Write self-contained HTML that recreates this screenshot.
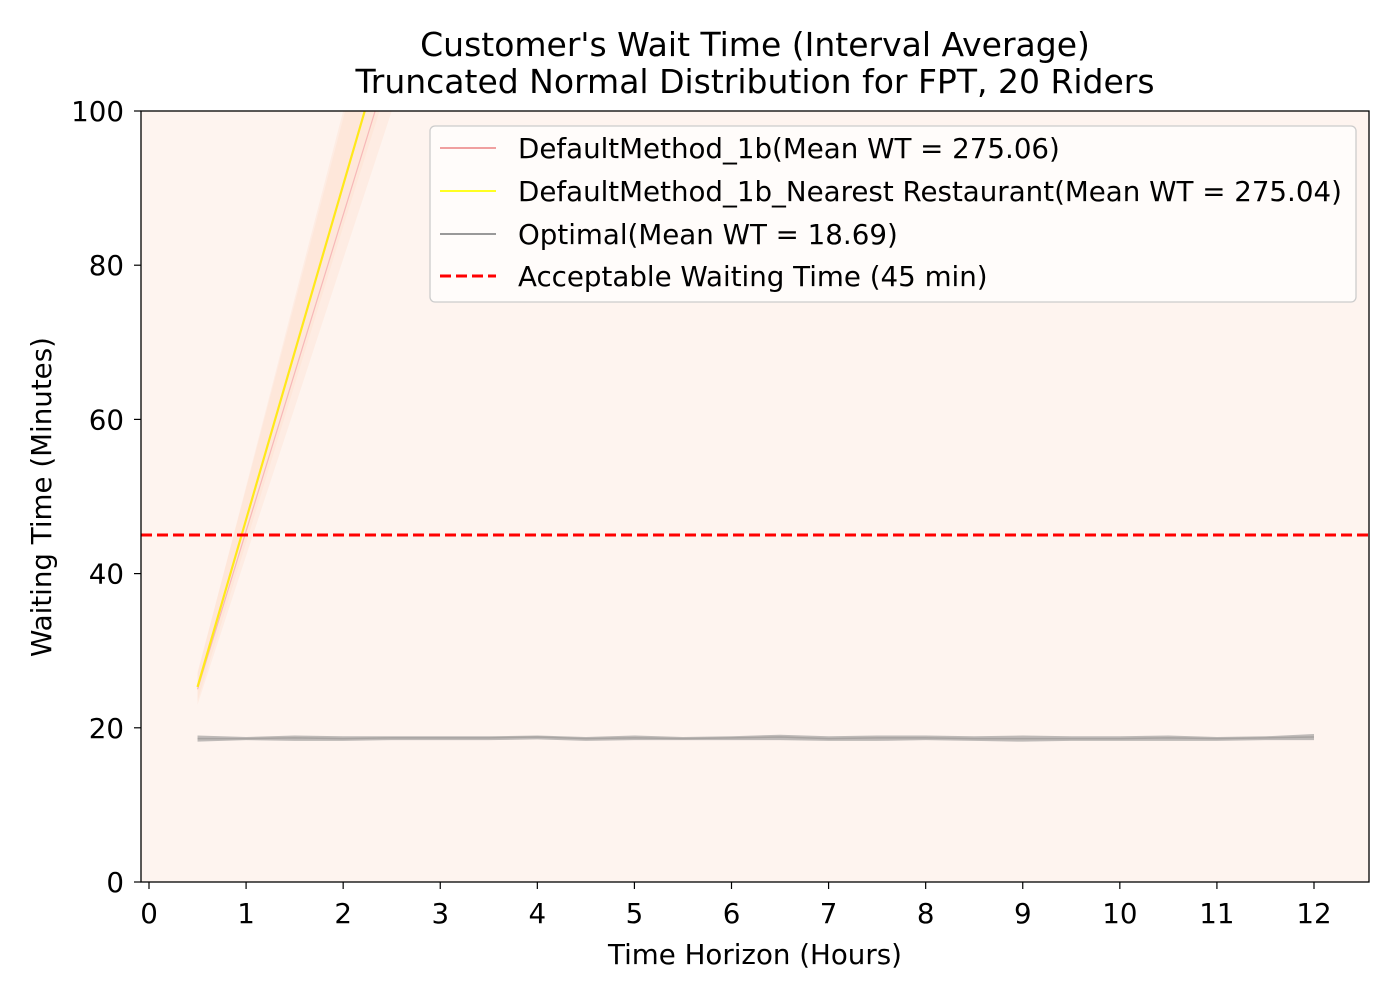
<!DOCTYPE html>
<html><head><meta charset="utf-8"><style>
body{margin:0;background:#fff;}
svg text{font-family:"DejaVu Sans","Liberation Sans",sans-serif;fill:#000;}
</style></head><body>
<svg id="chart" width="1400" height="1000" xmlns="http://www.w3.org/2000/svg">
<rect width="1400" height="1000" fill="#fff"/>
<text x="755" y="56" text-anchor="middle" font-size="33">Customer's Wait Time (Interval Average)</text>
<text x="755" y="93" text-anchor="middle" font-size="33">Truncated Normal Distribution for FPT, 20 Riders</text>
<rect x="141" y="111" width="1228" height="771" fill="#fef4ef"/>
<defs><clipPath id="clip"><rect x="141" y="111" width="1228" height="771"/></clipPath></defs>
<g id="marks" clip-path="url(#clip)"></g>
<g id="axes"></g>
<rect x="141" y="111" width="1228" height="771" fill="none" stroke="#000" stroke-width="1.3"/>
<text x="755" y="964" text-anchor="middle" font-size="27.7">Time Horizon (Hours)</text>
<text transform="translate(51,497) rotate(-90)" text-anchor="middle" font-size="27.7">Waiting Time (Minutes)</text>
<g>
<rect x="430" y="126" width="926" height="176" rx="5" fill="#fffdfc" fill-opacity="0.85" stroke="#ccc" stroke-width="1.3"/>
<line x1="440" y1="148" x2="496" y2="148" stroke="#f0a0a0" stroke-width="2"/>
<text x="518" y="158" font-size="27.7">DefaultMethod_1b(Mean WT = 275.06)</text>
<line x1="440" y1="191" x2="496" y2="191" stroke="#ffff22" stroke-width="2"/>
<text x="518" y="201" font-size="27.7">DefaultMethod_1b_Nearest Restaurant(Mean WT = 275.04)</text>
<line x1="440" y1="234" x2="496" y2="234" stroke="#999" stroke-width="2"/>
<text x="518" y="244" font-size="27.7">Optimal(Mean WT = 18.69)</text>
<line x1="440" y1="276" x2="496" y2="276" stroke="#f00" stroke-width="3" stroke-dasharray="11,5"/>
<text x="518" y="286" font-size="27.7">Acceptable Waiting Time (45 min)</text>
</g>
</svg>
<script>
const hours = [0.5,1,1.5,2,2.5,3,3.5,4,4.5,5,5.5,6,6.5,7,7.5,8,8.5,9,9.5,10,10.5,11,11.5,12];
const defaultMean = [25.0,45.5,66.0,86.5,107,128,148,169,189,210,230,251,271,292,312,333,353,374,394,415,435,456,476,497];
const defaultLow = [23.0,42.3,61.5,80.8,100,119,139,158,177,196,216,235,254,273,293,312,331,350,370,389,408,427,447,466];
const defaultHigh = [27.0,51.3,75.7,100.0,124,149,173,197,222,246,270,295,319,343,368,392,416,441,465,489,514,538,562,587];
const nearestMean = [25.3,47.0,68.7,90.4,112,134,156,178,200,222,244,266,288,310,332,354,376,398,420,442,464,486,508,530];
const nearestLow = [23.5,44.0,64.5,85.0,105,126,146,167,187,208,228,249,269,290,310,331,351,372,392,413,433,454,474,495];
const nearestHigh = [27.2,51.0,75.0,99.0,123,147,171,195,219,243,267,291,315,339,363,387,411,435,459,483,507,531,555,579];
const optimalMean = [18.6,18.6,18.7,18.6,18.7,18.7,18.7,18.8,18.6,18.7,18.6,18.7,18.8,18.6,18.7,18.7,18.6,18.6,18.6,18.6,18.7,18.6,18.7,18.8];
const optimalLow = [18.2,18.4,18.3,18.3,18.4,18.4,18.4,18.5,18.3,18.4,18.4,18.4,18.4,18.3,18.3,18.4,18.3,18.2,18.3,18.3,18.3,18.3,18.4,18.4];
const optimalHigh = [19.0,18.8,19.0,18.9,18.9,18.9,18.9,19.0,18.8,19.0,18.8,18.9,19.1,18.9,19.0,19.0,18.9,19.0,18.9,18.9,19.0,18.8,18.9,19.2];
const acceptable = 45;
const xTicks = [0,1,2,3,4,5,6,7,8,9,10,11,12];
const yTicks = [0,20,40,60,80,100];

const NS = "http://www.w3.org/2000/svg";
const X = v => 149 + v * (1314 - 149) / 12;
const Y = v => 882 - v * 7.71;
const marks = document.getElementById('marks');
const axes = document.getElementById('axes');
function mk(tag, attrs, parent){const e=document.createElementNS(NS,tag);for(const k in attrs)e.setAttribute(k,attrs[k]);parent.appendChild(e);return e;}
function band(lo, hi, fill, op){
  let d = hours.map((h,i)=>(i?'L':'M')+X(h)+','+Y(hi[i])).join('');
  d += hours.slice().reverse().map((h,j)=>'L'+X(h)+','+Y(lo[hours.length-1-j])).join('')+'Z';
  return mk('path',{d:d,fill:fill,'fill-opacity':op},marks);
}
function line(vals, stroke, w){
  const d = hours.map((h,i)=>(i?'L':'M')+X(h)+','+Y(vals[i])).join('');
  return mk('path',{d:d,fill:'none',stroke:stroke,'stroke-width':w},marks);
}
let b1 = band(defaultLow, defaultHigh, '#ffdcc8', 0.3);


let b2 = band(nearestLow, nearestHigh, '#ffdcc8', 0.3);


let b3 = band(optimalLow, optimalHigh, '#8a8a8a', 0.55);


let l1 = line(defaultMean, '#f7b8b8', 1.2);


let l2 = line(nearestMean, '#ffe81a', 2.2);


let l3 = line(optimalMean, '#a8a4a2', 1.5);


let acc = mk('line',{x1:141,x2:1369,y1:Y(acceptable),y2:Y(acceptable),stroke:'#f00','stroke-width':3,'stroke-dasharray':'11,5'},marks);


xTicks.forEach(t=>{
  const tk = mk('line',{x1:X(t),x2:X(t),y1:882,y2:889,stroke:'#000','stroke-width':1.2},axes);
  
  
  const tx = mk('text',{x:X(t),y:923,'text-anchor':'middle','font-size':27.7},axes);
  tx.textContent = t;
  
  
});
yTicks.forEach(t=>{
  const tk = mk('line',{x1:134,x2:141,y1:Y(t),y2:Y(t),stroke:'#000','stroke-width':1.2},axes);
  
  
  const tx = mk('text',{x:124,y:Y(t)+10,'text-anchor':'end','font-size':27.7},axes);
  tx.textContent = t;
  
  
});
</script>
</body></html>
